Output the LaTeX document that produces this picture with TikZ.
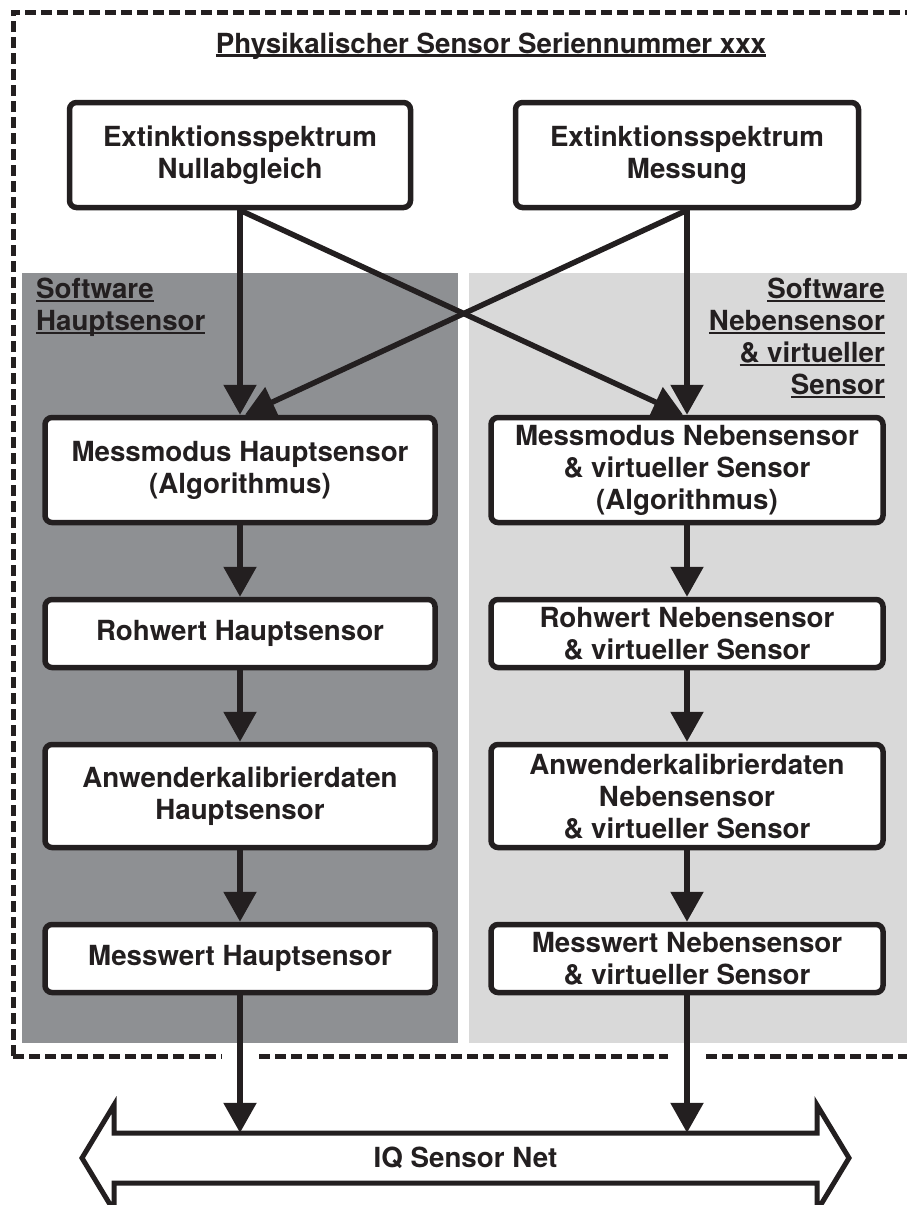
\documentclass[tikz,border=0pt]{standalone}
\usepackage{fontspec}
\setmainfont{TeX Gyre Heros}
\usetikzlibrary{arrows.meta}
\usetikzlibrary{calc}
\definecolor{dunkel}{HTML}{231F20}
\definecolor{grauH}{HTML}{8E9093}
\definecolor{grauN}{HTML}{D9D9D9}
\tikzstyle{arrow} = [line width=5.5pt,draw=dunkel,-{Triangle[width=32pt,length=30pt]}]
\tikzstyle{kasten} = [draw=dunkel,line width=5.5pt,rounded corners=7pt,fill=white,align=center,inner sep=3pt]
\tikzstyle{rahmen} = [draw=dunkel,line width=5pt,dash pattern=on 11pt off 5pt]
\newcommand{\strich}[1]{\setbox0\hbox{#1}\rlap{\rule[-3.5pt]{\wd0}{2.2pt}}\box0}

\begin{document}
\begin{tikzpicture}[x=1pt,y=-1pt,font=\fontsize{27.7}{32}\selectfont\bfseries,text=dunkel]
\useasboundingbox (0,0) rectangle (906,1205);
% Hintergrund der Software-Bereiche
\fill[grauH] (22,273) rectangle (458,1043);
\fill[grauN] (469,273) rectangle (920,1043);
% Rahmen physikalischer Sensor
\draw[rahmen] (13,1056) -- (13,12) -- (920,12);
\draw[rahmen] (13,1056) -- (222,1056);
\draw[rahmen] (259,1056) -- (668,1056);
\draw[rahmen] (706,1056) -- (920,1056);
\node[anchor=base] (titel) at (491,53) {\strich{Physikalischer Sensor Seriennummer xxx}};
\node[anchor=north west,inner sep=0,align=left] (swH) at (36,278) {\strich{Software}\\\strich{Hauptsensor}};
\node[anchor=north east,inner sep=0,align=right] (swN) at (885,278) {\strich{Software}\\\strich{Nebensensor}\\\strich{\& virtueller}\\\strich{Sensor}};
% Spektren
\node[kasten,minimum width=341pt,minimum height=105pt] (spekN) at (240,155) {Extinktionsspektrum\\Nullabgleich};
\node[kasten,minimum width=343pt,minimum height=105pt] (spekM) at (687,155) {Extinktionsspektrum\\Messung};
% Hauptsensor
\node[kasten,minimum width=390pt,minimum height=105pt] (mmH) at (240,470) {Messmodus Hauptsensor\\(Algorithmus)};
\node[kasten,minimum width=390pt,minimum height=68pt] (rwH) at (240,633.5) {Rohwert Hauptsensor};
\node[kasten,minimum width=390pt,minimum height=103pt] (akH) at (240,796) {Anwenderkalibrierdaten\\Hauptsensor};
\node[kasten,minimum width=390pt,minimum height=68pt] (mwH) at (240,958.5) {Messwert Hauptsensor};
% Nebensensor
\node[kasten,minimum width=392pt,minimum height=105pt] (mmN) at (687,470) {Messmodus Nebensensor\\\& virtueller Sensor\\(Algorithmus)};
\node[kasten,minimum width=392pt,minimum height=68pt] (rwN) at (687,633.5) {Rohwert Nebensensor\\\& virtueller Sensor};
\node[kasten,minimum width=392pt,minimum height=103pt] (akN) at (687,796) {Anwenderkalibrierdaten\\Nebensensor\\\& virtueller Sensor};
\node[kasten,minimum width=392pt,minimum height=68pt] (mwN) at (687,958.5) {Messwert Nebensensor\\\& virtueller Sensor};
% Bus
\draw[draw=dunkel,line width=5pt,fill=white,line join=miter] (114,1133) -- (817,1133) -- (817,1105) -- (849,1158) -- (817,1211) -- (817,1183) -- (114,1183) -- (114,1211) -- (82,1158) -- (114,1105) -- cycle;
\node[minimum width=703pt,minimum height=50pt,inner sep=0] (netz) at (465.5,1158) {IQ Sensor Net};
% Verbindungen
\draw[arrow] (spekN.south) -- (mmH.north);
\draw[arrow] (spekM.south) -- (mmN.north);
\draw[arrow] (spekN.south) -- ([xshift=-4pt]mmN.north);
\draw[arrow] (spekM.south) -- ([xshift=5pt]mmH.north);
\foreach \a/\b in {mmH/rwH,rwH/akH,akH/mwH,mmN/rwN,rwN/akN,akN/mwN}{
	\draw[arrow] (\a.south) -- (\b.north);
}
\draw[arrow] (mwH.south) -- (mwH.south |- netz.north);
\draw[arrow] (mwN.south) -- (mwN.south |- netz.north);
\end{tikzpicture}
\end{document}
